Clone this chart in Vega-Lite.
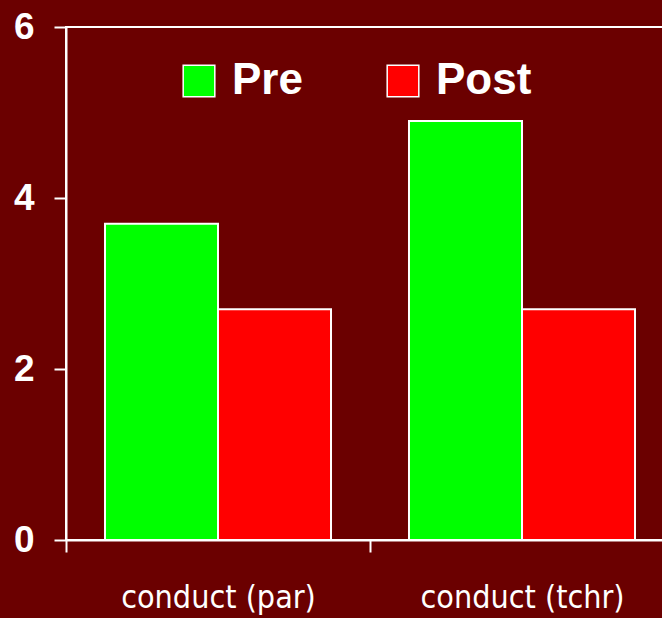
{
  "$schema": "https://vega.github.io/schema/vega-lite/v6.json",
  "autosize": {"type": "none"},
  "padding": {"left": 66, "top": 27, "right": 0, "bottom": 78},
  "width": 608,
  "height": 513,
  "background": "#6b0000",
  "config": {
    "view": {"stroke": "white", "strokeWidth": 2},
    "font": "Liberation Sans"
  },
  "data": {
    "values": [
      {"measure": "conduct (par)", "time": "Pre", "value": 3.7},
      {"measure": "conduct (par)", "time": "Post", "value": 2.7},
      {"measure": "conduct (tchr)", "time": "Pre", "value": 4.9},
      {"measure": "conduct (tchr)", "time": "Post", "value": 2.7}
    ]
  },
  "mark": {"type": "bar", "stroke": "white", "strokeWidth": 2},
  "encoding": {
    "x": {
      "field": "measure",
      "type": "nominal",
      "sort": null,
      "scale": {"paddingInner": 0, "paddingOuter": 0},
      "axis": {
        "title": null,
        "labelAngle": 0,
        "domainColor": "white",
        "domainWidth": 2,
        "tickColor": "white",
        "tickWidth": 2,
        "tickSize": 12,
        "tickBand": "extent",
        "labelColor": "white",
        "labelFont": "DejaVu Sans Condensed, Roboto",
        "labelFontWeight": "normal",
        "labelFontSize": 32,
        "labelLimit": 0,
        "labelPadding": 30
      }
    },
    "xOffset": {
      "field": "time",
      "type": "nominal",
      "sort": ["Pre", "Post"],
      "scale": {"paddingInner": 0, "paddingOuter": 0.345}
    },
    "y": {
      "field": "value",
      "type": "quantitative",
      "scale": {"domain": [0, 6], "nice": false},
      "axis": {
        "title": null,
        "values": [0, 2, 4, 6],
        "grid": false,
        "domainColor": "white",
        "domainWidth": 2,
        "tickColor": "white",
        "tickWidth": 2,
        "tickSize": 12,
        "labelColor": "white",
        "labelFontSize": 37,
        "labelFontWeight": "bold",
        "labelPadding": 20
      }
    },
    "color": {
      "field": "time",
      "type": "nominal",
      "sort": ["Pre", "Post"],
      "scale": {"domain": ["Pre", "Post"], "range": ["#00ff00", "#ff0000"]},
      "legend": {
        "title": null,
        "orient": "none",
        "direction": "horizontal",
        "legendX": 111,
        "legendY": 32,
        "symbolType": "square",
        "symbolSize": 1000,
        "symbolStrokeColor": "white",
        "symbolStrokeWidth": 1.5,
        "symbolOpacity": 1,
        "labelColor": "white",
        "labelFontSize": 44,
        "labelFontWeight": "bold",
        "labelOffset": 11,
        "columnPadding": 78,
        "labelLimit": 300
      }
    }
  }
}
